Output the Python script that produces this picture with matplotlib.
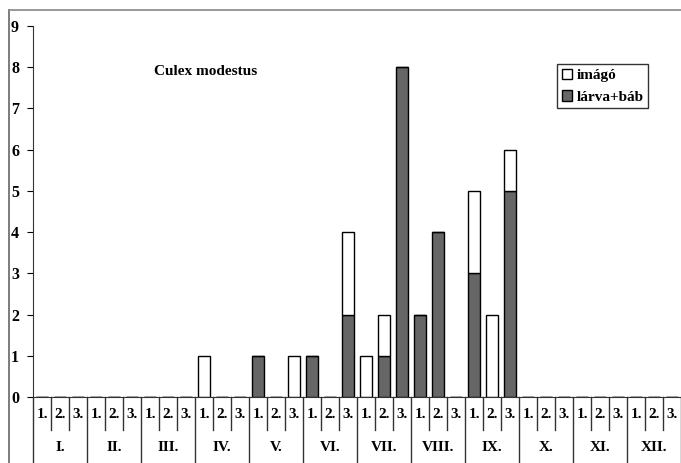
import matplotlib.pyplot as plt
from matplotlib.lines import Line2D
from matplotlib.transforms import blended_transform_factory
import numpy as np

plt.rcParams['font.family'] = ['Liberation Serif', 'DejaVu Serif']
plt.rcParams['font.weight'] = 'bold'

months = ['I.', 'II.', 'III.', 'IV.', 'V.', 'VI.', 'VII.', 'VIII.', 'IX.', 'X.', 'XI.', 'XII.']
decades = ['1.', '2.', '3.']

# values per decade (12 months x 3 decades)
larva = [0, 0, 0,  0, 0, 0,  0, 0, 0,  0, 0, 0,
         1, 0, 0,  1, 0, 2,  0, 1, 8,  2, 4, 0,
         3, 0, 5,  0, 0, 0,  0, 0, 0,  0, 0, 0]
imago = [0, 0, 0,  0, 0, 0,  0, 0, 0,  1, 0, 0,
         0, 0, 1,  0, 0, 2,  1, 1, 0,  0, 0, 0,
         2, 2, 1,  0, 0, 0,  0, 0, 0,  0, 0, 0]

fig = plt.figure(figsize=(6.81, 4.63), dpi=100)
ax = fig.add_axes([33/681, 66/463, 1 - 33/681, 371/463])

x = np.arange(len(larva)) + 0.5
ax.bar(x, larva, width=0.62, color='#666666', edgecolor='black', linewidth=1, label='lárva+báb')
ax.bar(x, imago, width=0.62, bottom=larva, color='white', edgecolor='black', linewidth=1, label='imágó')

ax.set_xlim(0, 36)
ax.set_ylim(0, 9)
ax.set_yticks(range(10))
ax.tick_params(axis='y', direction='out', length=4, labelsize=11.5, pad=6)
ax.set_xticks([])
for s in ['top', 'right']:
    ax.spines[s].set_visible(False)
ax.spines['left'].set_color('#333333')
ax.spines['bottom'].set_color('#333333')

# category table below the axis
tr = blended_transform_factory(ax.transData, ax.transAxes)
for i in range(37):
    y_end = -0.18 if i % 3 == 0 else -0.089
    ax.plot([i, i], [0, y_end], color='#333333', lw=1, transform=tr, clip_on=False)
for i in range(36):
    ax.text(i + 0.5, -0.047, decades[i % 3], transform=tr, ha='center', va='center', fontsize=11)
for m, name in enumerate(months):
    ax.text(m * 3 + 1.5, -0.135, name, transform=tr, ha='center', va='center', fontsize=11)

ax.text(9.6, 7.9, 'Culex modestus', ha='center', va='center', fontsize=11)

h, l = ax.get_legend_handles_labels()
leg = ax.legend(h[::-1], l[::-1], loc='upper left', fontsize=11, frameon=True, fancybox=False,
                edgecolor='black', handlelength=0.7, handleheight=0.7, handletextpad=0.3,
                borderpad=0.3, labelspacing=0.5, borderaxespad=0)
leg.get_frame().set_linewidth(1)
leg.set_bbox_to_anchor((557/681, 1 - 64/463), transform=fig.transFigure)

# outer chart frame (left and top edges visible)
fx, fy = 8.5/681, 1 - 9.5/463
fig.add_artist(Line2D([fx, fx], [0, fy], transform=fig.transFigure, color='#666666', lw=1.2))
fig.add_artist(Line2D([fx, 1], [fy, fy], transform=fig.transFigure, color='#888888', lw=1.2))

fig.savefig('out.png', dpi=100)
